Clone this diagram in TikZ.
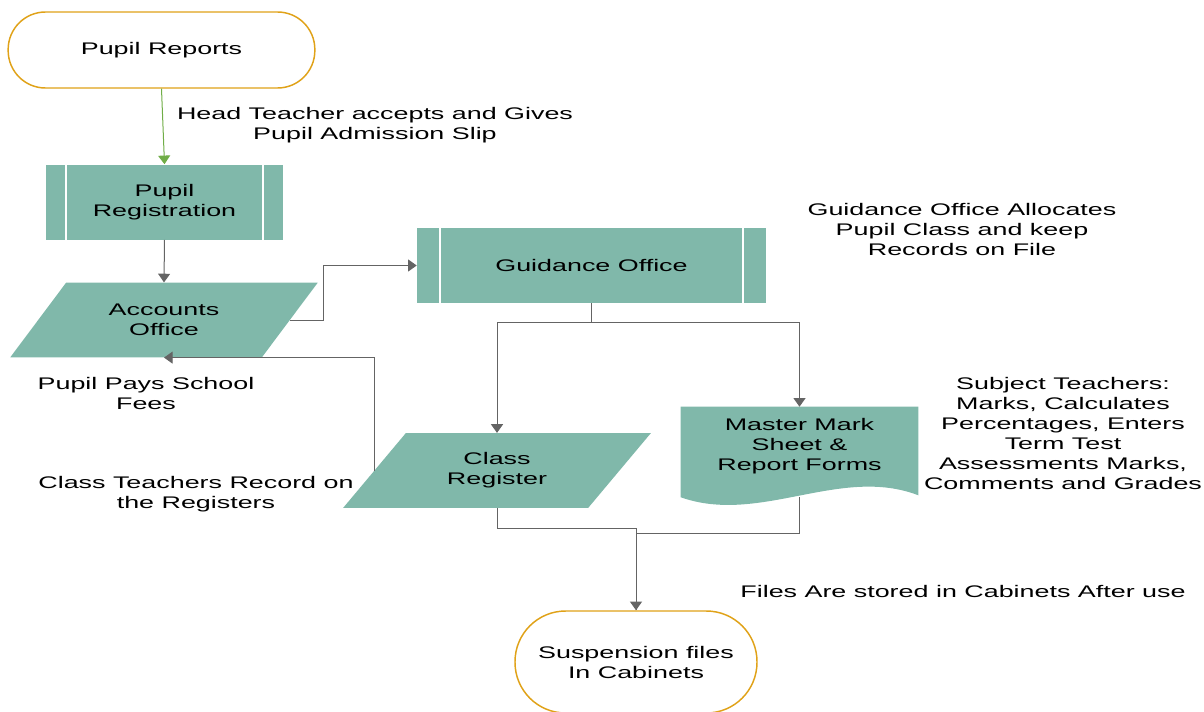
\documentclass[tikz,border=0pt]{standalone}
\usepackage{fontspec}
\setmainfont{Liberation Sans}[FakeStretch=1.6]
\usetikzlibrary{arrows.meta,shapes.geometric,backgrounds}
\definecolor{tealbox}{RGB}{128,184,170}
\definecolor{goldline}{RGB}{224,162,24}
\definecolor{greenline}{RGB}{112,173,71}
\definecolor{greyline}{RGB}{100,100,100}
\tikzset{
  txt/.style={align=center, font=\fontsize{12.6}{15}\selectfont},
  term/.style={txt, draw=goldline, line width=1.1pt, rounded corners=#1, fill=white},
  predef/.style={txt, fill=tealbox, minimum height=56.25pt,
    path picture={\draw[white, line width=1.5pt]
      ([xshift=#1]path picture bounding box.north west) -- ([xshift=#1]path picture bounding box.south west)
      ([xshift=-#1]path picture bounding box.north east) -- ([xshift=-#1]path picture bounding box.south east);}},
  para/.style={txt, trapezium, trapezium left angle=50, trapezium right angle=130,
    trapezium stretches=true, fill=tealbox, minimum width=231pt, minimum height=56pt},
  conn/.style={greyline, line width=0.75pt, -{Triangle[width=9pt,length=6.5pt]}},
}
\begin{document}
\begin{tikzpicture}[x=0.75pt, y=-0.75pt]
    \useasboundingbox (0,0) rectangle (1204,711);
    % Inicio
    \node[term=28pt, minimum width=230pt, minimum height=57pt] (rep) at (161.5,50) {Pupil Reports};
    % Registro
    \node[predef=15pt, minimum width=177.75pt] (reg) at (164.5,202) {Pupil\\Registration};
    % Cuentas
    \node[para] (acc) at (164,320) {Accounts\\Office};
    % Orientacion
    \node[predef=17pt, minimum width=261.75pt] (guid) at (591.5,265.5) {Guidance Office};
    % Registro de clase
    \node[para] (creg) at (497,470.5) {Class\\Register};
    % Hoja maestra
    \node[txt, minimum width=177.75pt, minimum height=58.5pt] (mms) at (799.5,446) {Master Mark\\Sheet \&\\Report Forms};
    \begin{pgfonlayer}{background}
        \fill[tealbox] (mms.north west) -- (mms.north east) -- ([yshift=-7.5pt]mms.south east)
            .. controls +(-78,-30) and +(79,28) .. ([yshift=-9pt]mms.south west) -- cycle;
    \end{pgfonlayer}
    % Archivo
    \node[term=38pt, minimum width=181.5pt, minimum height=76.5pt] (susp) at (636,662) {Suspension files\\In Cabinets};
    % Flechas
    \draw[conn, greenline] (rep.south) -- (reg.north);
    \draw[conn] (reg.south) -- (acc.north);
    \draw[conn] (acc.east) -- ++(33,0) |- (guid.west);
    \draw[conn] (guid.south) -- ++(0,19) -| (creg.north);
    \draw[conn] (guid.south) -- ++(0,19) -| (mms.north);
    \draw[conn] (creg.west) |- (acc.south);
    \draw[conn] (creg.south) -- ++(0,20) -| (susp.north);
    \draw[greyline, line width=0.75pt] ([yshift=-9pt]mms.south) -- ++(0,36) -| (susp.north);
    % Etiquetas
    \node[txt] (lhead) at (375,125) {Head Teacher accepts and Gives\\Pupil Admission Slip};
    \node[txt] (lguid) at (962,229) {Guidance Office Allocates\\Pupil Class and keep\\Records on File};
    \node[txt] (lfees) at (146,393) {Pupil Pays School\\Fees};
    \node[txt] (lclass) at (196,494) {Class Teachers Record on\\the Registers};
    \node[txt] (lsubj) at (1063,433) {Subject Teachers:\\Marks, Calculates\\Percentages, Enters\\Term Test\\Assessments Marks,\\Comments and Grades};
    \node[txt] (lfiles) at (963,591) {Files Are stored in Cabinets After use};
\end{tikzpicture}
\end{document}
